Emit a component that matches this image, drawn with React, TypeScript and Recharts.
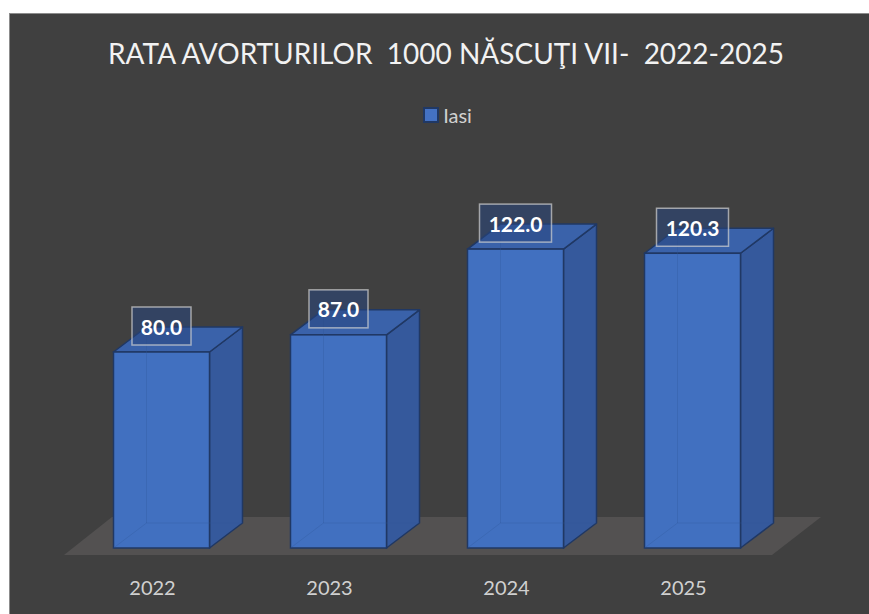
import React from "react";
import {
  Bar,
  BarChart,
  LabelList,
  Legend,
  ReferenceArea,
  XAxis,
  YAxis,
} from "recharts";

const years = ["2022", "2023", "2024", "2025"];
const iasi = [80.0, 87.0, 122.0, 120.3];
const seriesName = "Iasi";
const title = "RATA AVORTURILOR  1000 NĂSCUŢI VII-  2022-2025";

const data = years.map((year, i) => ({ year, iasi: iasi[i] }));

const FONT = "Lato, 'Open Sans', sans-serif";
const DX = 33;
const DY = 25;

/** 3D box: front face, right side, top, faint hidden back edges. */
function Box3D(props: any) {
  const { x, y, width: w, height: h } = props;
  if (!w || h == null) return null;
  const edge = "#203864";
  return (
    <g>
      <polygon
        points={`${x + w},${y} ${x + w + DX},${y - DY} ${x + w + DX},${y + h - DY} ${x + w},${y + h}`}
        fill="#35599c"
        stroke={edge}
        strokeWidth={1.5}
        strokeLinejoin="round"
      />
      <polygon
        points={`${x},${y} ${x + DX},${y - DY} ${x + w + DX},${y - DY} ${x + w},${y}`}
        fill="#3a62aa"
        stroke={edge}
        strokeWidth={1.5}
        strokeLinejoin="round"
      />
      <rect
        x={x}
        y={y}
        width={w}
        height={h}
        fill="#4170c0"
        stroke={edge}
        strokeWidth={1.5}
      />
      {/* hidden edges seen through the face */}
      <g stroke="#2e5597" strokeOpacity={0.3} strokeWidth={1} fill="none">
        <line x1={x + DX} y1={y - DY} x2={x + DX} y2={y + h - DY} />
        <line x1={x + DX} y1={y + h - DY} x2={x + w + DX} y2={y + h - DY} />
        <line x1={x} y1={y + h} x2={x + DX} y2={y + h - DY} />
      </g>
    </g>
  );
}

/** Grey floor slab under the bars, from the plot area edges. */
function Floor(props: any) {
  const { x, y, width, height } = props;
  const L = x;
  const R = x + width;
  const B = y + height;
  return (
    <polygon
      points={`${L - 8.5},${B + 7} ${R - 8.5},${B + 7} ${R + 40.5},${B - 31} ${L + 39.5},${B - 31}`}
      fill="#535151"
    />
  );
}

function ValueLabel(props: any) {
  const { x, y, width, value } = props;
  const text = Number(value).toFixed(1);
  const bw = text.length * 13 + 7;
  const bh = 38;
  const cx = x + width / 2;
  const cy = y - DY - 1;
  return (
    <g>
      <rect
        x={cx - bw / 2}
        y={cy - bh / 2}
        width={bw}
        height={bh}
        fill="rgba(40,70,125,0.55)"
        stroke="rgba(210,210,210,0.7)"
        strokeWidth={1.5}
      />
      <text
        x={cx}
        y={cy}
        textAnchor="middle"
        dominantBaseline="central"
        fill="#ffffff"
        fontFamily={FONT}
        fontWeight={700}
        fontSize={21}
      >
        {text}
      </text>
    </g>
  );
}

function YearTick(props: any) {
  const { x, y, payload } = props;
  return (
    <text
      x={x - 8.5}
      y={y + 39}
      textAnchor="middle"
      dominantBaseline="central"
      fill="#d0d0d0"
      fontFamily={FONT}
      fontSize={20}
    >
      {payload.value}
    </text>
  );
}

function LegendContent(props: any) {
  const items = props.payload || [];
  return (
    <div style={{ display: "flex", justifyContent: "center" }}>
      {items.map((it: any) => (
        <div
          key={it.value}
          style={{ display: "flex", alignItems: "center", marginLeft: 16 }}
        >
          <span
            style={{
              width: 12,
              height: 12,
              background: "#4472c4",
              border: "2px solid #203864",
              marginRight: 4,
            }}
          />
          <span
            style={{ color: "#d0d0d0", fontFamily: FONT, fontSize: 20 }}
          >
            {it.value}
          </span>
        </div>
      ))}
    </div>
  );
}

export default function App() {
  return (
    <>
      <style>{`body{margin:0;overflow:hidden;background:#fff}`}</style>
      <div
        style={{
          position: "absolute",
          left: 9,
          top: 13,
          width: 860,
          height: 601,
          boxSizing: "border-box",
          background: "#404040",
          borderLeft: "1px solid #8c8c8c",
          borderTop: "1px solid #8c8c8c",
        }}
      >
        <div
          style={{
            position: "absolute",
            left: 0,
            width: 872,
            top: 22,
            textAlign: "center",
            color: "#f2f2f2",
            fontFamily: FONT,
            fontSize: 28,
            whiteSpace: "pre",
            lineHeight: "34px",
          }}
        >
          {title}
        </div>
        <BarChart
          width={859}
          height={600}
          data={data}
          margin={{ top: 191, right: 88.5, bottom: 0, left: 62.5 }}
        >
          <XAxis
            dataKey="year"
            axisLine={false}
            tickLine={false}
            tickSize={0}
            tickMargin={0}
            height={66}
            tick={<YearTick />}
          />
          <YAxis hide domain={[0, 140]} />
          <Legend
            verticalAlign="middle"
            content={<LegendContent />}
            wrapperStyle={{ top: 89, left: 0, width: 859 }}
          />
          <ReferenceArea
            y1={0}
            y2={10}
            ifOverflow="visible"
            shape={<Floor />}
          />
          <Bar
            dataKey="iasi"
            name={seriesName}
            barSize={96}
            shape={<Box3D />}
            isAnimationActive={false}
          >
            <LabelList dataKey="iasi" content={<ValueLabel />} />
          </Bar>
        </BarChart>
      </div>
    </>
  );
}
